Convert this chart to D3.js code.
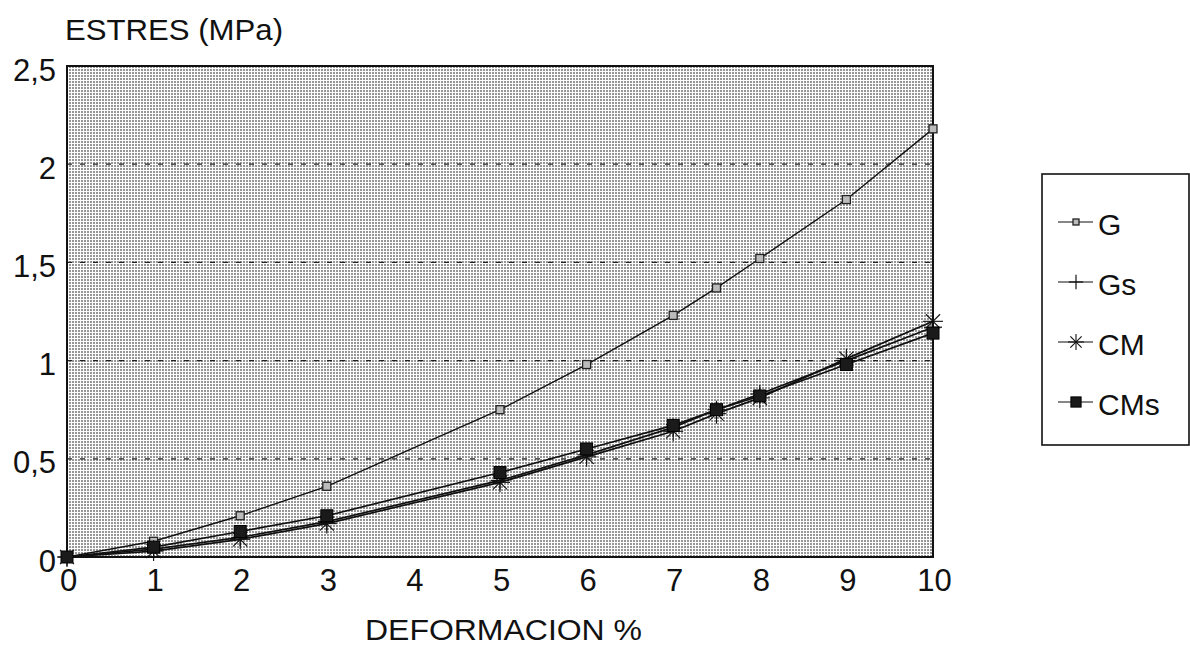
<!DOCTYPE html>
<html><head><meta charset="utf-8">
<script src="https://cdn.jsdelivr.net/npm/d3@7"></script>
<style>body{margin:0;background:#fff}svg{display:block}text{font-family:"Liberation Sans",Arial,sans-serif;fill:#111}</style>
</head><body>
<svg id="c" width="1190" height="659"></svg>
<script>
const strain = [0, 1, 2, 3, 5, 6, 7, 7.5, 8, 9, 10];
const G   = [0, 0.08, 0.21, 0.36, 0.75, 0.98, 1.23, 1.37, 1.52, 1.82, 2.18];
const Gs  = [0, 0.04, 0.10, 0.18, 0.39, 0.52, 0.66, 0.75, 0.83, 1.00, 1.17];
const CM  = [0, 0.03, 0.09, 0.17, 0.38, 0.51, 0.64, 0.73, 0.81, 1.01, 1.20];
const CMs = [0, 0.05, 0.13, 0.21, 0.43, 0.55, 0.67, 0.75, 0.82, 0.98, 1.14];
const xTicks = [0,1,2,3,4,5,6,7,8,9,10];
const yTicks = [0, 0.5, 1, 1.5, 2, 2.5];
const seriesNames = ["G", "Gs", "CM", "CMs"];
const seriesVals = [G, Gs, CM, CMs];

const svg = d3.select("#c");
const L = 67, R = 933, T = 66, B = 557;
const x = d3.scaleLinear().domain([0, 10]).range([L, R]);
const y = d3.scaleLinear().domain([0, 2.5]).range([B, T]);
const fmt = d3.format(".1f");
const lab = v => (Number.isInteger(v) ? String(v) : fmt(v).replace(".", ","));
const FF = '"Liberation Sans",Arial,sans-serif';

// stipple pattern
const defs = svg.append("defs");
const pat = defs.append("pattern").attr("id", "dots").attr("width", 3).attr("height", 3).attr("patternUnits", "userSpaceOnUse");
pat.append("rect").attr("width", 3).attr("height", 3).attr("fill", "#fdfdfd");
pat.append("rect").attr("width", 2).attr("height", 2).attr("fill", "#969696");

svg.append("rect").attr("x", L).attr("y", T).attr("width", R - L).attr("height", B - T)
  .attr("fill", "url(#dots)");

// gridlines
svg.append("g").selectAll("line").data(yTicks.filter(v => v > 0 && v < 2.5)).join("line")
  .attr("x1", L).attr("x2", R).attr("y1", d => y(d)).attr("y2", d => y(d))
  .attr("stroke", "#222").attr("stroke-width", 1.2).attr("stroke-dasharray", "5,8");

svg.append("rect").attr("x", L).attr("y", T).attr("width", R - L).attr("height", B - T)
  .attr("fill", "none").attr("stroke", "#111").attr("stroke-width", 2);

// axes labels via d3 axes
const yAxis = svg.append("g").attr("transform", `translate(${L - 11},3)`)
  .call(d3.axisLeft(y).tickValues(yTicks).tickFormat(lab).tickSize(0).tickPadding(0));
yAxis.select(".domain").remove();
yAxis.selectAll("text").attr("font-size", 31).attr("dy", "0.36em").style("font-family", FF).attr("fill", "#111");

const xAxis = svg.append("g").attr("transform", `translate(1,${B})`)
  .call(d3.axisBottom(x).tickValues(xTicks).tickFormat(lab).tickSize(0).tickPadding(12));
xAxis.select(".domain").remove();
xAxis.selectAll("text").attr("font-size", 31).attr("dy", "0.71em").style("font-family", FF).attr("fill", "#111");

svg.append("text").attr("x", 65).attr("y", 40).attr("font-size", 30)
  .attr("textLength", 218).attr("lengthAdjust", "spacingAndGlyphs").text("ESTRES (MPa)");
svg.append("text").attr("x", 365).attr("y", 640).attr("font-size", 30)
  .attr("textLength", 277).attr("lengthAdjust", "spacingAndGlyphs").text("DEFORMACION %");

// lines
const line = d3.line().x((d, i) => x(strain[i])).y(d => y(d));
const lineG = svg.append("g");
seriesVals.forEach((vals, k) => {
  lineG.append("path").datum(vals).attr("d", line).attr("fill", "none")
    .attr("stroke", "#111").attr("stroke-width", k === 0 ? 1.4 : 1.7);
});

function drawMarker(g, name, cx, cy, scale) {
  const s = scale || 1;
  if (name === "G") {
    g.append("rect").attr("x", cx - 4 * s).attr("y", cy - 4 * s).attr("width", 8 * s).attr("height", 8 * s)
      .attr("fill", "#bbb").attr("stroke", "#222").attr("stroke-width", 1.3);
  } else if (name === "Gs") {
    const r = 9 * s;
    g.append("line").attr("x1", cx - r).attr("x2", cx + r).attr("y1", cy).attr("y2", cy).attr("stroke", "#111").attr("stroke-width", 1.2);
    g.append("line").attr("x1", cx).attr("x2", cx).attr("y1", cy - r).attr("y2", cy + r).attr("stroke", "#111").attr("stroke-width", 1.2);
  } else if (name === "CM") {
    const r = 10 * s;
    for (let a = 0; a < 4; a++) {
      const ang = a * Math.PI / 4;
      g.append("line").attr("x1", cx - r * Math.cos(ang)).attr("x2", cx + r * Math.cos(ang))
        .attr("y1", cy - r * Math.sin(ang)).attr("y2", cy + r * Math.sin(ang))
        .attr("stroke", "#111").attr("stroke-width", 1.1);
    }
  } else {
    g.append("rect").attr("x", cx - 6 * s).attr("y", cy - 6 * s).attr("width", 12 * s).attr("height", 12 * s)
      .attr("fill", "#1a1a1a").attr("stroke", "#000").attr("stroke-width", 1);
  }
}

const markG = svg.append("g");
seriesVals.forEach((vals, k) => {
  vals.forEach((v, i) => drawMarker(markG, seriesNames[k], x(strain[i]), y(v)));
});

// legend
const lg = svg.append("g");
lg.append("rect").attr("x", 1042).attr("y", 174).attr("width", 147).attr("height", 271)
  .attr("fill", "#fff").attr("stroke", "#111").attr("stroke-width", 1.6);
const ly = d3.scalePoint().domain(seriesNames).range([222, 402]);
seriesNames.forEach((n, k) => {
  const yy = ly(n);
  lg.append("line").attr("x1", 1058).attr("x2", 1093).attr("y1", yy).attr("y2", yy).attr("stroke", "#111").attr("stroke-width", 1.2);
  drawMarker(lg, n, 1076, yy, n === "G" ? 0.75 : (n === "CMs" ? 0.85 : 0.8));
  lg.append("text").attr("x", 1098).attr("y", yy + 2).attr("dy", "0.36em").attr("font-size", 30).text(n);
});
</script>
</body></html>
